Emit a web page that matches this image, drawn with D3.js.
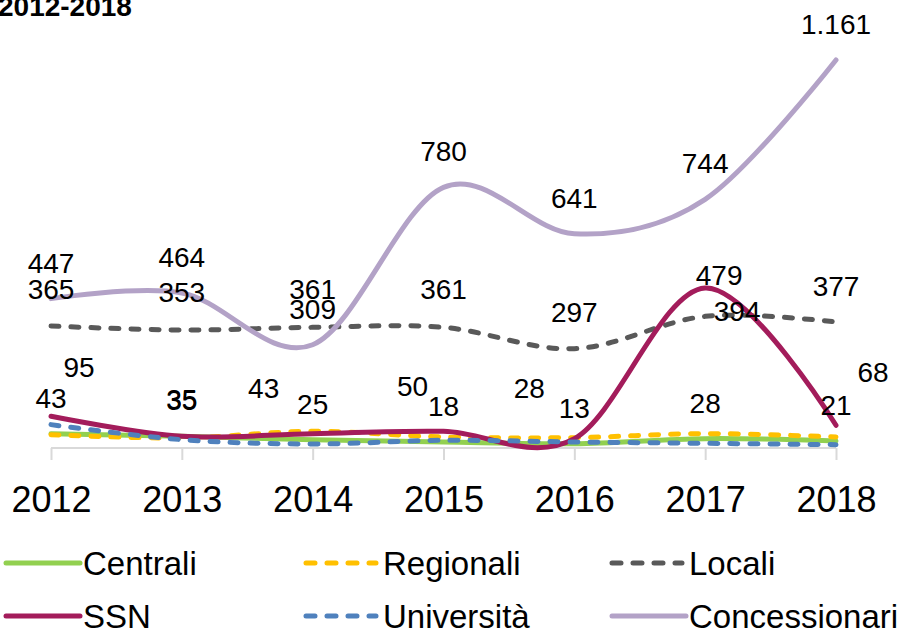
<!DOCTYPE html>
<html lang="it">
<head>
<meta charset="UTF-8">
<title>2012-2018</title>
<script src="https://d3js.org/d3.v7.min.js"></script>
<style>
  body { margin: 0; background: #fff; }
  text { font-family: "Liberation Sans", Arial, sans-serif; fill: #000; }
</style>
</head>
<body>
<svg width="907" height="633"></svg>
<script>
    // data
    let years = ["2012", "2013", "2014", "2015", "2016", "2017", "2018"]
    let centrali      = [43, 35, 25, 18, 13, 28, 21]
    let regionali     = [40, 30, 50, 33, 31, 43, 33]
    let locali        = [365, 353, 361, 361, 297, 394, 377]
    let ssn           = [95, 35, 43, 50, 28, 479, 68]
    let universita    = [70, 25, 12, 23, 18, 14, 10]
    let concessionari = [447, 464, 309, 780, 641, 744, 1161]

    let svg = d3.select('svg')

    let series = [
        {name: "Centrali", values: centrali, color: "#92D050", dash: null, labels: true},
        {name: "Regionali", values: regionali, color: "#FFC000", dash: "8,12", labels: false},
        {name: "Locali", values: locali, color: "#595959", dash: "8,12", labels: true},
        {name: "SSN", values: ssn, color: "#A31C5B", dash: null, labels: true},
        {name: "Università", values: universita, color: "#4F81BD", dash: "8,12", labels: false},
        {name: "Concessionari", values: concessionari, color: "#B3A2C7", dash: null, labels: true}
    ]

    // label offsets (Excel placed some by hand)
    let labelOffsets = {
        "Centrali": years.map(() => [0, -26]),
        "Locali": [[0, -27], [0, -28], [0, -28], [0, -28], [0, -27], [32, 5], [0, -26]],
        "SSN": [[28, -39], [0, -27], [-49, -36], [-31, -35], [-45, -41], [14, -3], [37, -43]],
        "Concessionari": years.map(() => [0, -26])
    }

    let x = d3.scalePoint().domain(years).range([51, 836])
    let y = d3.scaleLinear().domain([0, 1161]).range([448, 60])

    // title (cut at the top like the original)
    svg.append("text")
        .attr("x", -2).attr("y", 16)
        .style("font-weight", "bold").style("font-size", "28px")
        .text("2012-2018")

    // category axis
    let axis = svg.append("g").attr("transform", `translate(0,${y(0)})`)
        .call(d3.axisBottom(x).tickSize(12).tickPadding(26))
    axis.select(".domain").remove()
    axis.insert("line", ":first-child")
        .attr("x1", x(years[0])).attr("x2", x(years[6]))
        .attr("stroke", "#D9D9D9").attr("stroke-width", 2)
    axis.selectAll(".tick line").attr("stroke", "#D9D9D9").attr("stroke-width", 2)
    axis.selectAll(".tick text")
        .style("font-family", '"Liberation Sans", Arial, sans-serif')
        .style("font-size", "36px").attr("fill", "#000")

    let line = d3.line()
        .x((d, i) => x(years[i]))
        .y(d => y(d))
        .curve(d3.curveCardinal.tension(0))

    svg.append("g").selectAll("path")
        .data(series)
        .enter()
        .append("path")
        .attr("d", d => line(d.values))
        .attr("fill", "none")
        .attr("stroke", d => d.color)
        .attr("stroke-width", 5)
        .attr("stroke-linecap", "round")
        .attr("stroke-dasharray", d => d.dash)

    // data labels
    series.filter(s => s.labels).forEach(s => {
        svg.append("g").selectAll("text")
            .data(s.values)
            .enter()
            .append("text")
            .attr("x", (d, i) => x(years[i]) + labelOffsets[s.name][i][0])
            .attr("y", (d, i) => y(d) + labelOffsets[s.name][i][1])
            .attr("text-anchor", "middle")
            .style("font-size", "28px")
            .text(d => d3.format(",")(d).replace(/,/g, "."))
    })

    // legend
    let legend = svg.append("g").selectAll("g")
        .data(series)
        .enter()
        .append("g")
        .attr("transform", (d, i) => `translate(${[6, 306, 612][i % 3]},${i < 3 ? 563 : 616})`)
    legend.append("line")
        .attr("x1", 0).attr("x2", d => d.dash ? 70 : 74)
        .attr("stroke", d => d.color).attr("stroke-width", 5)
        .attr("stroke-linecap", "round")
        .attr("stroke-dasharray", d => d.dash ? "9,12" : null)
    legend.append("text")
        .attr("x", 77).attr("y", 12)
        .style("font-size", "33px")
        .text(d => d.name)
</script>
</body>
</html>
